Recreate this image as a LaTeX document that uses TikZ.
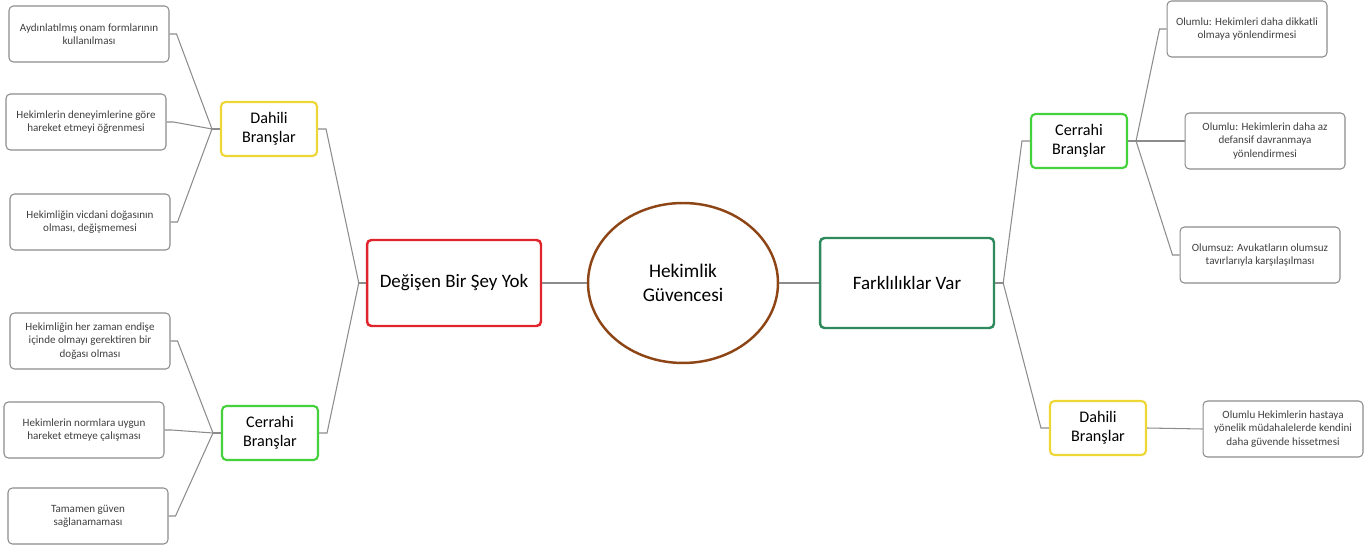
\documentclass[tikz,border=0pt]{standalone}
\usepackage{fontspec}
\setmainfont{Carlito}
\usepackage{tikz}
\usepackage{xcolor}
\usetikzlibrary{shapes.geometric, positioning, calc}
\definecolor{MapRed}{HTML}{E0242C}
\definecolor{MapYellow}{HTML}{EDD636}
\definecolor{MapLime}{HTML}{44D13C}
\definecolor{MapTeal}{HTML}{2E8A5C}
\definecolor{MapBrown}{HTML}{8E4516}
\definecolor{MapLine}{HTML}{8C8C8C}
\definecolor{MapText}{HTML}{404040}

\tikzset{
    leafbox/.style={draw=MapLine, line width=0.6pt, rounded corners=2.5pt, fill=white,
        minimum width=3.2cm, minimum height=1.12cm, align=center,
        font=\fontsize{6.3}{7.5}\selectfont, text=MapText},
    branchbox/.style={line width=1.2pt, rounded corners=2.5pt, fill=white,
        minimum width=1.92cm, minimum height=1.08cm, align=center,
        font=\fontsize{9.2}{11}\selectfont},
    mainbox/.style={line width=1.4pt, rounded corners=2.5pt, fill=white,
        minimum width=3.48cm, minimum height=1.72cm, align=center,
        font=\fontsize{10.8}{13}\selectfont},
    link/.style={draw=MapLine, line width=0.6pt}
}

\begin{document}
\begin{tikzpicture}[x=0.02cm, y=-0.02cm]
    \useasboundingbox (0,0) rectangle (1365,550);

    % ===== Centre =====
    \node[draw=MapBrown, line width=1.4pt, ellipse, minimum width=3.8cm, minimum height=3.2cm,
          align=center, font=\fontsize{11}{13.5}\selectfont] (core) at (683,283) {Hekimlik\\Güvencesi};
    \node[mainbox, draw=MapRed] (nochange) at (454,283) {Değişen Bir Şey Yok};
    \node[mainbox, draw=MapTeal, minimum height=1.8cm] (diff) at (907,283) {Farklılıklar Var};

    % ===== Left branches =====
    \node[branchbox, draw=MapYellow] (ldahili) at (269,129) {Dahili\\Branşlar};
    \node[branchbox, draw=MapLime] (lcerrahi) at (270,433) {Cerrahi\\Branşlar};

    \node[leafbox] (la) at (89,34) {Aydınlatılmış onam formlarının\\kullanılması};
    \node[leafbox] (lb) at (86,122) {Hekimlerin deneyimlerine göre\\hareket etmeyi öğrenmesi};
    \node[leafbox] (lc) at (90,222) {Hekimliğin vicdani doğasının\\olması, değişmemesi};
    \node[leafbox] (ld) at (90,341) {Hekimliğin her zaman endişe\\içinde olmayı gerektiren bir\\doğası olması};
    \node[leafbox] (le) at (84,430) {Hekimlerin normlara uygun\\hareket etmeye çalışması};
    \node[leafbox] (lf) at (88,516) {Tamamen güven\\sağlanamaması};

    % ===== Right branches =====
    \node[branchbox, draw=MapLime] (rcerrahi) at (1079,141) {Cerrahi\\Branşlar};
    \node[branchbox, draw=MapYellow] (rdahili) at (1098,428) {Dahili\\Branşlar};

    \node[leafbox] (ra) at (1247,29) {Olumlu: Hekimleri daha dikkatli\\olmaya yönlendirmesi};
    \node[leafbox] (rb) at (1265,141) {Olumlu: Hekimlerin daha az\\defansif davranmaya\\yönlendirmesi};
    \node[leafbox] (rc) at (1260,255) {Olumsuz: Avukatların olumsuz\\tavırlarıyla karşılaşılması};
    \node[leafbox] (rd) at (1283,429) {Olumlu Hekimlerin hastaya\\yönelik müdahalelerde kendini\\daha güvende hissetmesi};

    % ===== Connectors =====
    \draw[link] (nochange) -- (core);
    \draw[link] (core) -- (diff);

    % junction points
    \coordinate (jnochange) at ($(nochange.west)+(-7,0)$);
    \coordinate (jldahili) at ($(ldahili.west)+(-8,0)$);
    \coordinate (jlcerrahi) at ($(lcerrahi.west)+(-8,0)$);
    \coordinate (jdiff) at ($(diff.east)+(8,0)$);
    \coordinate (jrcerrahi) at ($(rcerrahi.east)+(8,0)$);

    \draw[link] (nochange.west) -- (jnochange);
    \foreach \kid in {ldahili, lcerrahi}
        \draw[link] (jnochange) -- ($(\kid.east)+(8,0)$) -- (\kid.east);

    \draw[link] (ldahili.west) -- (jldahili);
    \foreach \kid in {la, lb, lc}
        \draw[link] (jldahili) -- ($(\kid.east)+(7,0)$) -- (\kid.east);

    \draw[link] (lcerrahi.west) -- (jlcerrahi);
    \foreach \kid in {ld, le, lf}
        \draw[link] (jlcerrahi) -- ($(\kid.east)+(7,0)$) -- (\kid.east);

    \draw[link] (diff.east) -- (jdiff);
    \foreach \kid in {rcerrahi, rdahili}
        \draw[link] (jdiff) -- ($(\kid.west)+(-8,0)$) -- (\kid.west);

    \draw[link] (rcerrahi.east) -- (jrcerrahi);
    \foreach \kid in {ra, rb, rc}
        \draw[link] (jrcerrahi) -- ($(\kid.west)+(-7,0)$) -- (\kid.west);

    \draw[link] (rdahili.east) -- (rd.west);
\end{tikzpicture}
\end{document}
